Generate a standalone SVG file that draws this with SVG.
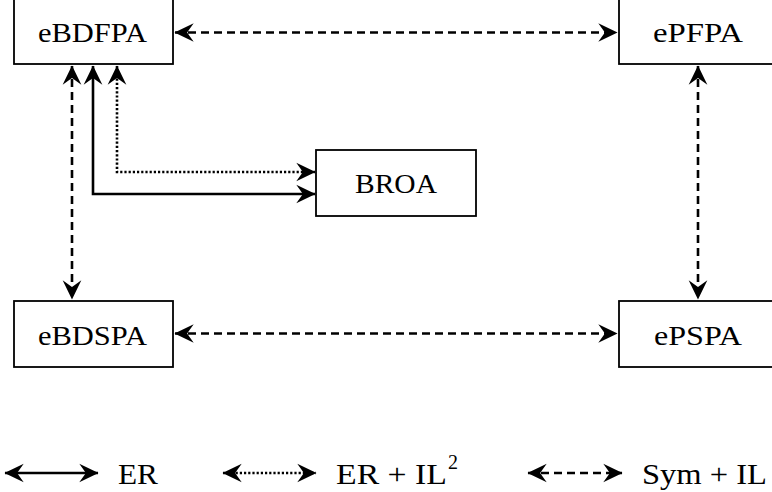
<svg xmlns="http://www.w3.org/2000/svg" width="772" height="492" viewBox="0 0 772 492">
<style>
.box{fill:#fff;stroke:#000;stroke-width:1.8}
.lbl{font-family:"Liberation Serif","Times New Roman",serif;font-size:27px;fill:#000}
.leg{font-family:"Liberation Serif","Times New Roman",serif;font-size:29px;fill:#000}
.c{fill:none;stroke:#000;stroke-width:2.6}
.dash{stroke-dasharray:8,5}
.dot{stroke-dasharray:2.2,2}
</style>
<defs>
<marker id="ah" markerUnits="userSpaceOnUse" markerWidth="22" markerHeight="22" viewBox="-19 -10 20 20" refX="0" refY="0" orient="auto-start-reverse">
<path d="M0.5,0 L-17,-8.5 L-11,0 L-17,8.5 Z" fill="#000"/>
</marker>
</defs>
<rect width="772" height="492" fill="#fff"/>
<g id="connectors">
<line class="c dash" x1="175" y1="32.5" x2="617" y2="32.5" marker-start="url(#ah)" marker-end="url(#ah)"/>
<line class="c dash" x1="175" y1="333.5" x2="617" y2="333.5" marker-start="url(#ah)" marker-end="url(#ah)"/>
<line class="c dash" x1="72" y1="66" x2="72" y2="299" marker-start="url(#ah)" marker-end="url(#ah)"/>
<line class="c dash" x1="698" y1="66" x2="698" y2="299" marker-start="url(#ah)" marker-end="url(#ah)"/>
<path class="c" d="M93,66 V194 H315" marker-start="url(#ah)" marker-end="url(#ah)"/>
<path class="c dot" d="M117,66 V172 H315" marker-start="url(#ah)" marker-end="url(#ah)"/>
</g>
<g id="eBDFPA">
<rect class="box" x="14" y="-2" width="159" height="66"/>
<text class="lbl" x="38" y="42" textLength="109" lengthAdjust="spacingAndGlyphs">eBDFPA</text>
</g>
<g id="ePFPA">
<rect class="box" x="619" y="-2" width="160" height="66"/>
<text class="lbl" x="653" y="42" textLength="90" lengthAdjust="spacingAndGlyphs">ePFPA</text>
</g>
<g id="BROA">
<rect class="box" x="316" y="150" width="160" height="66"/>
<text class="lbl" x="355" y="193" textLength="82" lengthAdjust="spacingAndGlyphs">BROA</text>
</g>
<g id="eBDSPA">
<rect class="box" x="14" y="301" width="159" height="66"/>
<text class="lbl" x="38" y="345" textLength="109" lengthAdjust="spacingAndGlyphs">eBDSPA</text>
</g>
<g id="ePSPA">
<rect class="box" x="619" y="301" width="160" height="66"/>
<text class="lbl" x="654" y="345" textLength="88" lengthAdjust="spacingAndGlyphs">ePSPA</text>
</g>
<g id="legend">
<line class="c" x1="5" y1="473" x2="98" y2="473" marker-start="url(#ah)" marker-end="url(#ah)"/>
<text class="leg" x="118" y="484" textLength="40" lengthAdjust="spacingAndGlyphs">ER</text>
<line class="c dot" x1="223" y1="473" x2="316" y2="473" marker-start="url(#ah)" marker-end="url(#ah)"/>
<text class="leg" x="336" y="484" textLength="111" lengthAdjust="spacingAndGlyphs">ER + IL</text>
<text class="leg" x="448" y="469" style="font-size:20px">2</text>
<line class="c dash" x1="528" y1="473" x2="622" y2="473" marker-start="url(#ah)" marker-end="url(#ah)"/>
<text class="leg" x="642" y="484" textLength="125" lengthAdjust="spacingAndGlyphs">Sym + IL</text>
</g>
</svg>
